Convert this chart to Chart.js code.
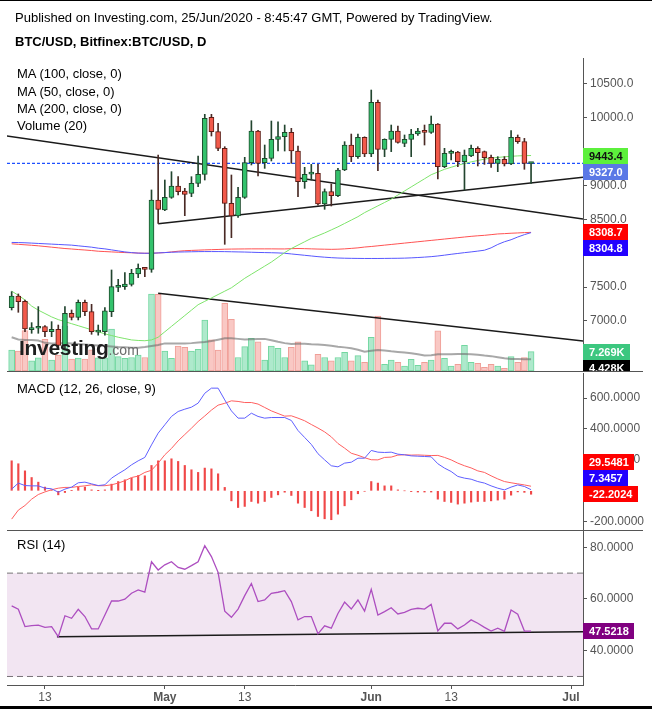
<!DOCTYPE html>
<html>
<head>
<meta charset="utf-8">
<script src="https://cdn.jsdelivr.net/npm/chart.js@4.4.1/dist/chart.umd.min.js"></script>
<style>
  body { margin: 0; background: #fff; }
  #page { position: relative; width: 652px; height: 709px; overflow: hidden; font-family: Arial, "Liberation Sans", sans-serif; }
  canvas { position: absolute; left: 0; }
  .txt { position: absolute; white-space: nowrap; font-size: 13px; line-height: 16px; color: #000; z-index: 2; }
  .rule { position: absolute; background: #555; z-index: 2; }
</style>
</head>
<body>
<div id="page">
  <canvas id="priceChart" width="652" height="372" style="top:0"></canvas>
  <canvas id="macdChart" width="652" height="158" style="top:372px"></canvas>
  <canvas id="rsiChart" width="652" height="179" style="top:530px"></canvas>

  <div class="rule" style="left:0;top:0;width:652px;height:1px;background:#000"></div>
  <div class="txt" style="left:15px;top:10px">Published on Investing.com, 25/Jun/2020 - 8:45:47 GMT, Powered by TradingView.</div>
  <div class="txt" style="left:15px;top:34px;font-weight:bold">BTC/USD, Bitfinex:BTC/USD, D</div>
  <div class="txt" style="left:17px;top:66px">MA (100, close, 0)</div>
  <div class="txt" style="left:17px;top:84px">MA (50, close, 0)</div>
  <div class="txt" style="left:17px;top:101px">MA (200, close, 0)</div>
  <div class="txt" style="left:17px;top:118px">Volume (20)</div>
  <div class="txt" style="left:19px;top:337px;font-size:21px;line-height:22px;font-weight:bold;color:#1e1e1e;letter-spacing:-0.3px">Investing<span style="font-size:14px;font-weight:normal;color:#6b6b6b;letter-spacing:0">.com</span></div>
  <div class="txt" style="left:17px;top:381px">MACD (12, 26, close, 9)</div>
  <div class="txt" style="left:17px;top:537px">RSI (14)</div>
  <div class="rule" style="left:7px;top:371px;width:636px;height:1px"></div>
  <div class="rule" style="left:7px;top:530px;width:636px;height:1px"></div>
  <div class="rule" style="left:0;top:706px;width:652px;height:3px;background:#000"></div>
</div>

<script>
// daily candles, index 0 = 8 Apr 2020 ... 78 = 25 Jun 2020
const open = [7197,7369,7290,6872,6892,6916,6842,6876,6640,7113, 7054,7276,7138,6835,6842,7138,7497,7507,7541,7694,
  7783,7763,8787,8639,8826,8994,8920,8885,9033,9166, 10008,9796,9550,8737,8550,8826,9338,9806,9338,9402,
  9683,9722,9786,9510,9057,9170,9180,8728,8910,8851, 9230,9599,9427,9712,9466,10229,9535,9683,9806,9624,
  9683,9761,9801,9786,9909,9279,9476,9496,9353,9437, 9550,9501,9417,9328,9387,9318,9712,9648,9326];
const high = [7433,7399,7310,6975,7212,6931,6990,6940,7212,7162, 7310,7310,7246,6940,7197,7753,7615,7714,7763,7842,
  7790,8935,9451,9082,9205,9131,8959,9131,9437,10052, 10052,9919,9574,9156,8974,9417,9958,9815,9599,9953,
  9943,9894,9845,9584,9269,9313,9313,8950,9023,9254, 9648,9761,9761,9720,10411,10264,9690,9894,9880,9747,
  9830,9845,9894,10027,9915,9550,9525,9505,9525,9599, 9574,9510,9450,9427,9427,9811,9747,9697,9343];
const low = [7162,7128,6842,6818,6818,6768,6768,6580,6600,7015, 7015,7079,6803,6790,6792,7064,7433,7467,7516,7640,
  7655,7719,8442,8629,8811,8861,8555,8836,8984,9082, 9732,9515,8132,8230,8530,8810,9304,9141,9254,9363,
  9510,9510,9328,8836,8959,9082,8710,8649,8698,8836, 9220,9353,9402,9427,9427,9220,9427,9501,9625,9574,
  9427,9740,9599,9770,9097,9265,9377,9279,8934,9425, 9289,9313,9269,9205,9289,9310,9623,9240,9033];
const close = [7369,7285,6882,6891,6921,6842,6877,6640,7113,7054, 7276,7138,6842,6850,7148,7507,7522,7546,7704,7778,
  7763,8787,8649,8826,8994,8910,8870,9033,9166,9993, 9796,9550,8737,8550,8826,9338,9806,9328,9402,9683,
  9722,9786,9510,9057,9166,9180,8728,8910,8851,9230, 9599,9427,9712,9466,10229,9535,9683,9806,9638,9683,
  9761,9806,9786,9909,9279,9476,9496,9353,9451,9550, 9486,9412,9328,9387,9318,9712,9648,9328,9327.0];

// volume in thousands
const volume = [7.9,7.5,15.2,3.8,5.0,11.9,4.1,6.0,16.9,4.5, 4.9,4.5,8.0,5.0,5.0,15.8,5.4,4.8,5.1,6.0,
  5.1,29.0,28.9,7.5,4.8,9.4,8.9,7.5,8.2,19.2, 11.7,7.9,25.5,19.5,5.1,9.2,12.3,11.0,4.1,9.4,
  8.5,5.1,8.9,11.0,3.8,2.3,6.3,5.1,3.8,5.1, 7.0,3.8,5.8,3.3,12.7,20.7,2.5,4.1,3.3,1.9,
  4.4,2.1,3.3,4.1,15.1,4.8,1.9,2.5,9.7,3.3, 2.9,1.4,2.5,1.9,1.0,5.4,3.3,5.1,7.269];
const volumeMA = [12.7,11.9,11.7,11.7,11.5,10.6,10.4,10.4,10.5,10.4, 10.2,10.0,9.8,9.6,9.4,9.2,9.0,8.9,8.8,8.8,
  9.0,9.4,9.8,10.4,10.4,10.4,10.4,10.5,10.7,10.9, 11.3,11.8,12.3,12.3,12.1,11.9,12.0,12.1,12.1,11.6,
  11.0,10.5,10.2,10.3,10.3,10.1,10.0,9.8,9.5,9.1, 8.9,8.6,8.0,7.3,7.6,7.9,7.7,7.4,7.2,7.0,
  6.7,6.3,5.8,5.9,6.3,6.3,6.3,6.4,6.4,6.3, 6.1,5.8,5.6,5.2,4.8,4.5,4.5,4.4,4.428];

const ma50 = [7440,7380,7310,7220,7160,7110,7060,7020,6990,6960, 6930,6900,6870,6840,6810,6785,6760,6740,6720,6712,
  6708,6720,6760,6840,6920,7000,7080,7160,7240,7290, 7340,7390,7440,7490,7560,7630,7690,7750,7810,7870,
  7940,8010,8070,8120,8170,8220,8260,8300,8345,8390, 8440,8490,8540,8600,8650,8700,8750,8800,8860,8920,
  8980,9040,9100,9160,9200,9240,9270,9300,9325,9350, 9370,9390,9405,9415,9425,9432,9438,9442,9443.4];
const ma100 = [8160,8158,8155,8150,8145,8140,8135,8130,8125,8120, 8110,8100,8090,8075,8065,8050,8035,8020,8010,8002,
  8000,8000,8005,8010,8015,8018,8020,8022,8024,8025, 8025,8025,8024,8022,8020,8018,8015,8012,8010,8008,
  8005,8000,7990,7980,7970,7960,7950,7942,7935,7930, 7927,7925,7924,7923,7923,7923,7924,7925,7926,7928,
  7932,7937,7943,7950,7960,7972,7985,7997,8009,8020, 8032,8045,8080,8130,8170,8200,8240,8275,8304.8];
const ma200 = [8140,8132,8125,8118,8110,8100,8090,8080,8070,8063, 8055,8048,8040,8030,8025,8020,8015,8010,8007,8003,
  8000,8000,8005,8010,8020,8030,8038,8042,8046,8050, 8053,8056,8060,8062,8063,8064,8065,8065,8065,8065,
  8064,8064,8068,8070,8068,8065,8062,8060,8058,8060, 8065,8072,8080,8092,8100,8110,8120,8130,8140,8150,
  8160,8170,8180,8190,8200,8210,8220,8230,8240,8250, 8258,8265,8275,8285,8290,8296,8300,8305,8308.7];

const macd = [11,50,34,32,32,17,13,-9,11,24, 52,56,45,34,39,82,110,136,168,194,
  216,297,373,427,481,513,528,541,567,631, 664,664,588,517,470,470,502,481,470,474,
  474,474,455,390,345,300,240,200,162,155, 179,185,211,211,261,250,248,250,237,233,
  226,224,222,220,175,147,125,93,82,75, 60,50,32,17,6,24,38,28,7.3457];
const signal = [-183,-125,-95,-54,-24,-7,7,17,22,22, 28,32,39,33,33,39,50,65,86,95,
  119,133,179,233,274,323,364,405,448,484, 522,554,566,582,578,571,571,561,539,517,
  500,483,485,470,453,429,406,381,349,306, 276,243,230,214,201,200,216,218,231,233,
  231,232,230,228,229,216,200,179,162,148, 129,119,97,77,60,52,45,38,29.5481];
const histogram = [194,175,129,86,56,24,6,-26,-11,2, 24,24,6,1,6,43,60,71,82,99,
  97,164,194,194,207,190,164,136,119,147, 142,110,22,-65,-108,-101,-69,-80,-69,-43,
  -26,-9,-30,-80,-108,-129,-166,-181,-187,-151, -97,-58,-19,-3,60,50,32,32,6,0,
  -5,-8,-8,-8,-54,-69,-75,-86,-80,-73, -69,-69,-65,-60,-54,-28,-7,-10,-22.2024];

const rsi = [57.3,56.0,49.3,49.7,49.9,49.0,49.3,45.4,53.5,52.5, 56.0,53.2,48.4,48.4,53.8,59.2,59.2,59.9,62.2,63.5,
  62.6,74.4,71.2,73.2,74.4,72.2,71.5,72.9,74.4,80.6, 76.4,70.3,55.3,52.9,56.1,61.3,66.0,59.0,59.6,62.2,
  62.6,63.2,59.0,51.9,53.2,53.2,46.5,49.6,48.7,54.4, 58.8,56.1,59.6,55.3,63.7,53.8,55.1,56.6,54.2,54.8,
  56.0,56.4,56.1,57.9,47.6,50.6,50.6,48.4,49.9,51.9, 50.6,49.0,47.6,48.7,47.5,55.7,54.1,47.6,47.5218];

// drawn trendlines: [day, value] end points
const resistX = [-0.75, 85.8], resistY = [9732, 8505];
const supportX = [22, 85.8], supportY = [8435, 9122];
const volTrendX = [22, 85.8], volTrendY = [7409, 6704];
const rsiSupportX = [6.8, 85.8], rsiSupportY = [45.4, 47.35];
const rsiBand = [70, 30];

const priceTicks = [10500, 10000, 9000, 8500, 7500, 7000];
const macdTicks = [600, 400, 200, 0, -200];
const rsiTicks = [80, 60, 40];
const dateTickDays = [5, 23, 35, 54, 66, 84];
const dateTickLabels = ['13', 'May', '13', 'Jun', '13', 'Jul'];

Chart.defaults.font.family = 'Arial, "Liberation Sans", sans-serif';
Chart.defaults.animation = false;
Chart.defaults.events = [];
Chart.defaults.plugins.legend.display = false;
Chart.defaults.plugins.tooltip.enabled = false;

const X_MIN = -0.7, X_MAX = 85.8;
const GRAY = '#555';
const last = a => a[a.length - 1];
const pts = arr => arr.map((v, i) => ({x: i, y: v}));
const seg = (xs, ys) => xs.map((x, i) => ({x, y: ys[i]}));
const up = close.map((c, i) => c >= open[i]);

const hiddenX = {type: 'linear', min: X_MIN, max: X_MAX, offset: false, display: false};
const rightAxis = (min, max, ticks, digits) => ({
  position: 'right', min, max,
  afterBuildTicks: s => { s.ticks = ticks.map(v => ({value: v})); },
  afterFit: s => { s.width = 69; s.paddingTop = 0; s.paddingBottom = 0; },
  border: {color: GRAY},
  grid: {drawOnChartArea: false, tickLength: 4, color: GRAY},
  ticks: {color: GRAY, padding: 3, font: {size: 12}, callback: v => v.toFixed(digits)}
});
const line = (data, color, width, extra) => Object.assign({
  type: 'line', data, borderColor: color, borderWidth: width, pointRadius: 0, tension: 0, fill: false
}, extra || {});

// value tags on the right axis
function axisTags(groups) {
  return {
    id: 'axisTags',
    afterDraw(chart) {
      const {ctx, chartArea: a} = chart;
      const h = 16;
      ctx.save();
      ctx.beginPath();
      ctx.rect(a.right, a.top, chart.width - a.right, a.bottom - a.top);
      ctx.clip();
      ctx.font = 'bold 11px Arial, "Liberation Sans", sans-serif';
      ctx.textBaseline = 'middle';
      groups.forEach(g => {
        const dir = g.up ? -1 : 1;
        const items = g.tags.map(t => Object.assign({}, t, {y: chart.scales[t.axis].getPixelForValue(t.value)}));
        items.sort((p, q) => dir * (p.y - q.y));
        for (let i = 1; i < items.length; i++) {
          if (dir * (items[i].y - items[i - 1].y) < h) items[i].y = items[i - 1].y + dir * h;
        }
        items.forEach(t => {
          const w = Math.ceil(ctx.measureText(t.text).width) + 11;
          ctx.fillStyle = t.bg;
          ctx.fillRect(a.right, Math.round(t.y - h / 2), w, h);
          ctx.fillStyle = t.fg;
          ctx.fillText(t.text, a.right + 6, Math.round(t.y) + 1);
        });
      });
      ctx.restore();
    }
  };
}

// price + volume pane
new Chart(document.getElementById('priceChart'), {
  type: 'bar',
  data: {
    datasets: [
      {data: open.map((o, i) => ({x: i, y: [Math.min(o, close[i]), Math.max(o, close[i])]})),
        backgroundColor: up.map(u => u ? '#33c26c' : '#f25a4b'),
        borderColor: up.map(u => u ? '#1d4a2c' : '#5c1c15'),
        borderWidth: 1, borderSkipped: false, barThickness: 5, minBarLength: 2, grouped: false, order: 0},
      {data: open.map((o, i) => ({x: i, y: [low[i], high[i]]})),
        backgroundColor: up.map(u => u ? '#22452f' : '#4a2a25'),
        barThickness: 1, grouped: false, order: 1},
      line(pts(ma50), '#7ee46b', 1, {order: 2}),
      line(pts(ma100), '#5757ff', 1, {order: 2}),
      line(pts(ma200), '#ff5252', 1, {order: 2}),
      line(seg(resistX, resistY), '#1a1a1a', 1.5, {order: 2}),
      line(seg(supportX, supportY), '#1a1a1a', 1.5, {order: 2}),
      line(seg(volTrendX, volTrendY), '#1a1a1a', 1.5, {order: 2}),
      line(seg([X_MIN, X_MAX], [last(close), last(close)]), '#1f4fff', 1.4, {borderDash: [3, 2], order: 2}),
      line(pts(volumeMA), 'rgba(110,110,110,0.6)', 2, {yAxisID: 'vol', order: 5}),
      {data: pts(volume), yAxisID: 'vol',
        backgroundColor: up.map(u => u ? '#aee9cc' : '#f9c8c4'),
        borderColor: up.map(u => u ? '#72d7a0' : '#f09e97'),
        borderWidth: 1, borderSkipped: false, barThickness: 6, grouped: false, order: 10}
    ]
  },
  options: {
    responsive: false,
    layout: {padding: {left: 7, right: 0, top: 58, bottom: 1}},
    scales: {
      x: hiddenX,
      y: rightAxis(6261, 10884, priceTicks, 1),
      vol: {display: false, min: 0, max: 117.9}
    }
  },
  plugins: [axisTags([
    {tags: [
      {axis: 'y', value: last(ma50), text: last(ma50).toFixed(1), bg: '#5cf03c', fg: '#111'},
      {axis: 'y', value: last(close), text: last(close).toFixed(1), bg: '#5a78e6', fg: '#fff'}]},
    {tags: [
      {axis: 'y', value: last(ma200), text: last(ma200).toFixed(1), bg: '#ff0000', fg: '#fff'},
      {axis: 'y', value: last(ma100), text: last(ma100).toFixed(1), bg: '#2200ff', fg: '#fff'}]},
    {tags: [
      {axis: 'vol', value: last(volume), text: last(volume).toFixed(3) + 'K', bg: '#3cc77f', fg: '#fff'},
      {axis: 'vol', value: last(volumeMA), text: last(volumeMA).toFixed(3) + 'K', bg: '#000', fg: '#fff'}]}
  ])]
});

// MACD pane
new Chart(document.getElementById('macdChart'), {
  type: 'bar',
  data: {
    datasets: [
      line(pts(macd), '#5f5fff', 1, {order: 0}),
      line(pts(signal), '#ff5f5f', 1, {order: 1}),
      {data: pts(histogram), backgroundColor: '#f04848', barThickness: 1.5, grouped: false, order: 2}
    ]
  },
  options: {
    responsive: false,
    layout: {padding: {left: 7, right: 0, top: 1, bottom: 1}},
    scales: {x: hiddenX, y: rightAxis(-247, 762, macdTicks, 4)}
  },
  plugins: [axisTags([{up: true, tags: [
    {axis: 'y', value: last(signal), text: last(signal).toFixed(4), bg: '#ff0000', fg: '#fff'},
    {axis: 'y', value: last(macd), text: last(macd).toFixed(4), bg: '#2200ff', fg: '#fff'},
    {axis: 'y', value: last(histogram), text: last(histogram).toFixed(4), bg: '#ff0000', fg: '#fff'}]}])]
});

// RSI pane
const isMonthTick = c => {
  const lbl = c && c.tick ? dateTickLabels[dateTickDays.indexOf(c.tick.value)] : undefined;
  return !!lbl && lbl.length === 3;
};
new Chart(document.getElementById('rsiChart'), {
  type: 'line',
  data: {
    datasets: [
      line(pts(rsi), '#ad4ec0', 1.3, {order: 0}),
      line(seg(rsiSupportX, rsiSupportY), '#1a1a1a', 1.5, {order: 1}),
      line(seg([X_MIN, X_MAX], [rsiBand[0], rsiBand[0]]), '#777', 1,
        {borderDash: [6, 4], fill: '+1', backgroundColor: 'rgba(128,0,128,0.1)', order: 2}),
      line(seg([X_MIN, X_MAX], [rsiBand[1], rsiBand[1]]), '#777', 1, {borderDash: [6, 4], order: 3})
    ]
  },
  options: {
    responsive: false,
    layout: {padding: {left: 7, right: 0, top: 1, bottom: 0}},
    scales: {
      x: {type: 'linear', min: X_MIN, max: X_MAX, offset: false,
        afterBuildTicks: s => { s.ticks = dateTickDays.map(v => ({value: v})); },
        afterFit: s => { s.height = 24; s.paddingLeft = 0; s.paddingRight = 0; },
        border: {color: GRAY},
        grid: {drawOnChartArea: false, offset: false, tickLength: 4, color: GRAY},
        ticks: {color: GRAY, padding: 1, maxRotation: 0, autoSkip: false,
          font: c => ({size: 12, weight: isMonthTick(c) ? 'bold' : 'normal'}),
          callback: v => dateTickLabels[dateTickDays.indexOf(v)] || ''}
      },
      y: rightAxis(26.7, 86.3, rsiTicks, 4)
    }
  },
  plugins: [axisTags([{tags: [
    {axis: 'y', value: last(rsi), text: last(rsi).toFixed(4), bg: '#800080', fg: '#fff'}]}])]
});
</script>
</body>
</html>
